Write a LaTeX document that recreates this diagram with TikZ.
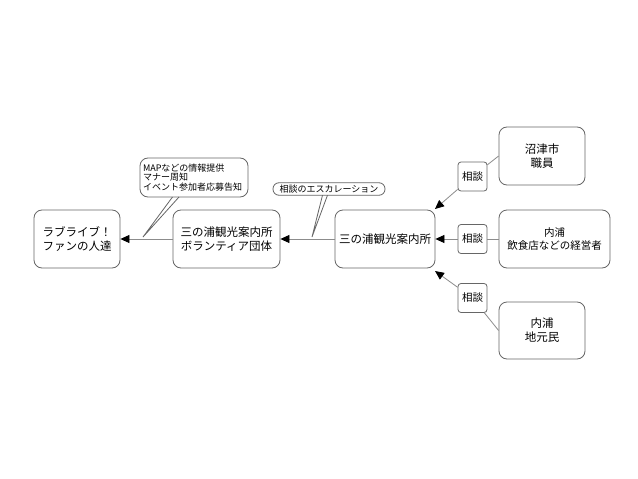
\documentclass[tikz,border=0pt]{standalone}
\usepackage{fontspec}
\setmainfont{Noto Sans CJK JP}
\usetikzlibrary{arrows.meta}
\begin{document}
\begin{tikzpicture}[x=1pt,y=-1pt,
  box/.style={draw=black!60, line width=0.8pt, rounded corners=8pt, fill=white, align=center, inner sep=0pt, font=\fontsize{11.5}{14}\selectfont},
  lbl/.style={draw=black!60, line width=0.8pt, rounded corners=3pt, fill=white, inner sep=0pt, minimum width=29pt, minimum height=29pt, font=\fontsize{10.5}{12}\selectfont},
  call/.style={draw=black!60, line width=0.8pt, fill=white, inner sep=0pt, font=\fontsize{9}{9.5}\selectfont},
  conn/.style={draw=black!45, line width=0.8pt},
  arr/.style={conn, -{Triangle[length=9pt,width=8pt,fill=black,color=black]}},
  wedge/.style={draw=black!60, line width=0.8pt}
]
\useasboundingbox[fill=white] (0,0) rectangle (638,479);

% main boxes
\node[box, minimum width=86pt, minimum height=58pt] (fans) at (77,239) {ラブライブ！\\ファンの人達};
\node[box, minimum width=107pt, minimum height=58pt] (vol) at (226.5,239) {三の浦観光案内所\\ボランティア団体};
\node[box, minimum width=100pt, minimum height=58pt] (info) at (385,239) {三の浦観光案内所};
\node[box, minimum width=86pt, minimum height=58pt] (numazu) at (542,156) {沼津市\\職員};
\node[box, minimum width=111pt, minimum height=58pt, font=\fontsize{10.5}{13}\selectfont] (eat) at (554.5,239) {内浦\\飲食店などの経営者};
\node[box, minimum width=86pt, minimum height=57pt] (local) at (542,330.5) {内浦\\地元民};

% consult labels
\node[lbl] (s1) at (472.5,176.5) {相談};
\node[lbl] (s2) at (472.5,239) {相談};
\node[lbl] (s3) at (472.5,298) {相談};

% connectors
\draw[arr] (vol.west) -- (fans.east);
\draw[arr] (info.west) -- (vol.east);
\coordinate (t1) at (435,209);
\coordinate (t3) at (435,271);
\draw[conn] (numazu.west) -- (s1);
\draw[arr] (s1) -- (t1);
\draw[conn] (eat.west) -- (s2);
\draw[arr] (s2) -- (info.east);
\draw[conn] (local.west) -- (s3);
\draw[arr] (s3) -- (t3);

% callout 1
\node[call, rounded corners=8pt, minimum width=108pt, minimum height=39pt, align=left, text width=102pt] (c1) at (194,177.5) {MAPなどの情報提供\\マナー周知\\イベント参加者応募告知};
\coordinate (c1a) at (172.5,197);
\coordinate (c1b) at (179,197);
\coordinate (c1t) at (143,237);
\fill[white] ([yshift=-1.2pt]c1a) -- (c1t) -- ([yshift=-1.2pt]c1b) -- cycle;
\draw[wedge] (c1a) -- (c1t) -- (c1b);

% callout 2
\node[call, rounded corners=6pt, minimum width=112pt, minimum height=12.5pt] (c2) at (329,189) {相談のエスカレーション};
\coordinate (c2a) at (322.5,195.2);
\coordinate (c2b) at (327.5,195.2);
\coordinate (c2t) at (312,237);
\fill[white] ([yshift=-1.2pt]c2a) -- (c2t) -- ([yshift=-1.2pt]c2b) -- cycle;
\draw[wedge] (c2a) -- (c2t) -- (c2b);
\end{tikzpicture}
\end{document}
